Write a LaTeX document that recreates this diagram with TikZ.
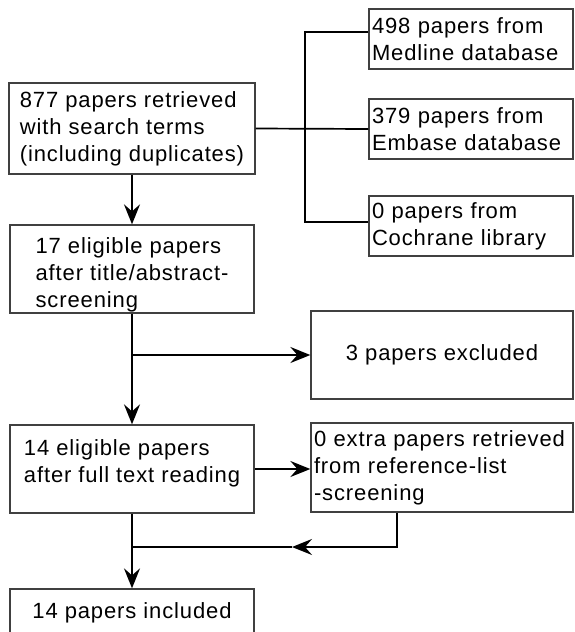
\documentclass[tikz,border=0pt]{standalone}
\usepackage{fontspec}
\setmainfont{Liberation Sans}[LetterSpace=4]
\usetikzlibrary{arrows.meta}
% invisible struts to nudge text in its box
\newcommand{\topstrut}{\rule{0pt}{28pt}}
\newcommand{\botstrut}{\rule[-16.6pt]{0pt}{16.6pt}}
\begin{document}
\begin{tikzpicture}[x=1pt,y=-1pt,
  every node/.style={font=\fontsize{22}{27}\selectfont},
  box/.style={draw=black!75,line width=1.3pt,align=left,inner sep=0pt},
  srcbox/.style={box,text width=198pt,inner xsep=3pt,minimum height=60pt},
  line/.style={line width=1.7pt},
  arr/.style={line,-{Stealth[length=20pt,width=16pt,inset=7pt]}}]
  \useasboundingbox (0,0) rectangle (574,632);
  % left column
  \node[box,minimum width=246pt,minimum height=91pt] (search) at (132,128.5) {877 papers retrieved\\with search terms\\(including duplicates)};
  \node[box,minimum width=244pt,minimum height=88pt] (screen) at (132,269) {\topstrut17 eligible papers\\after title/abstract-\\screening};
  \node[box,minimum width=244pt,minimum height=88pt] (fulltext) at (132,469) {14 eligible papers\\after full text reading\botstrut};
  \node[box,minimum width=244pt,minimum height=48pt] (incl) at (132,613) {14 papers included};
  % right column
  \node[srcbox] (medline) at (471,39) {498 papers from\\Medline database};
  \node[srcbox] (embase) at (471,129) {379 papers from\\Embase database};
  \node[srcbox] (cochrane) at (471,226) {0 papers from\\Cochrane library};
  \node[box,align=center,minimum width=262pt,minimum height=88pt] (excl) at (442,355) {3 papers excluded};
  \node[box,text width=256pt,inner xsep=3pt,minimum height=89pt] (extra) at (442,467.5) {0 extra papers retrieved\\from reference-list\\-screening};
  % connectors
  \coordinate (forkT) at (305,32);
  \coordinate (forkB) at (305,222);
  \coordinate (ret) at (397,547);
  \coordinate (retTip) at (292,547);
  \draw[line] (search.east) -- (embase.west);
  \draw[line] (medline.west |- forkT) -- (forkT) -- (forkB) -- (cochrane.west |- forkB);
  \draw[arr] (search) -- (screen);
  \draw[arr] (screen) -- (fulltext);
  \draw[arr] (screen.south |- excl.west) -- (excl.west);
  \draw[arr] (fulltext.east) -- (fulltext.east -| extra.west);
  \draw[arr] (extra.south -| ret) -- (ret) -- (retTip);
  \draw[line] (retTip) -- (fulltext.south |- ret);
  \draw[arr] (fulltext) -- (incl);
\end{tikzpicture}
\end{document}
